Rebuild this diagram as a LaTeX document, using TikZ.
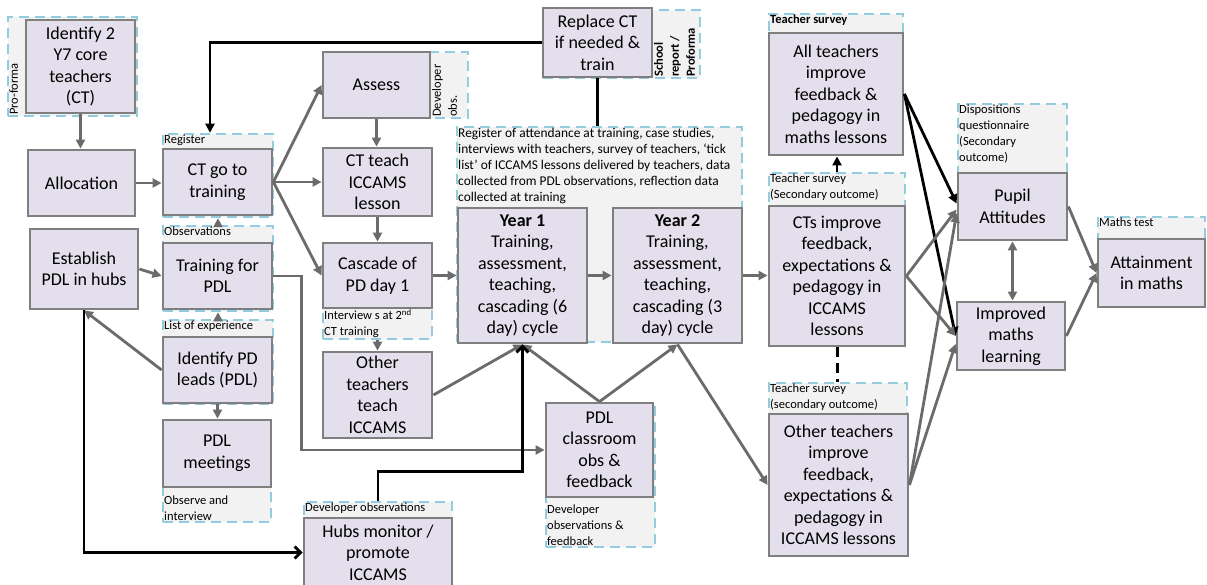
\documentclass[tikz,border=0pt]{standalone}
\usepackage{fontspec}
\setmainfont{Carlito}
\usetikzlibrary{arrows.meta,fit}
\definecolor{boxfill}{HTML}{E4DFEC}
\definecolor{boxline}{HTML}{7F7F7F}
\definecolor{linkgray}{HTML}{6B6B6B}
\definecolor{notefill}{HTML}{F2F2F2}
\definecolor{noteline}{HTML}{93CDDD}
\newcommand{\boxfont}{\fontsize{18}{21.5}\selectfont}
\newcommand{\notefont}{\fontsize{12.5}{16}\selectfont}
\begin{document}
\begin{tikzpicture}[x=1pt,y=-1pt,
        box/.style={draw=boxline,fill=boxfill,line width=2.8pt,inner sep=0pt,align=center,font=\boxfont},
        note/.style={draw=noteline,fill=notefill,line width=2.5pt,dash pattern=on 10pt off 6pt,inner sep=0pt},
        notetxt/.style={font=\notefont,align=left,inner sep=1pt},
        link/.style={draw=linkgray,line width=2.8pt,-{Triangle[length=9pt,width=9pt]}},
        blink/.style={draw=black,line width=2.8pt,-{Triangle[length=9pt,width=9pt]}},
        bopen/.style={draw=black,line width=2.8pt,-{Straight Barb[length=6pt,width=12pt]}}]
        \useasboundingbox (0,0) rectangle (1207,585);
        \node[note,fit={(8,17) (137,116)}] (n-idct) {};
        \node[note,fit={(163,134) (273,217)}] (n-cttrain) {};
        \node[note,fit={(163,226) (273,311)}] (n-trpdl) {};
        \node[note,fit={(163,320) (273,404)}] (n-idpdl) {};
        \node[note,fit={(163,420) (271,522)}] (n-pdlmeet) {};
        \node[note,fit={(304,502) (452,587)}] (n-hubs) {};
        \node[note,fit={(323,52) (468,118)}] (n-assess) {};
        \node[note,fit={(323,243) (432,339)}] (n-cascade) {};
        \node[note,fit={(543,10) (700,78)}] (n-replace) {};
        \node[note,fit={(457,127) (742,342)}] (n-big) {};
        \node[note,fit={(546,405) (655,547)}] (n-pdlobs) {};
        \node[note,fit={(769,14) (903,155)}] (n-allimp) {};
        \node[note,fit={(769,173) (905,346)}] (n-ctimp) {};
        \node[note,fit={(769,383) (907,556)}] (n-othimp) {};
        \node[note,fit={(958,104) (1067,240)}] (n-pupil) {};
        \node[note,fit={(1098,217) (1205,307)}] (n-attain) {};
        \node[box,minimum width=109,minimum height=93] (idct) at (80.5,66.5) {Identify 2\\Y7 core\\teachers\\(CT)};
        \node[box,minimum width=107,minimum height=66] (alloc) at (81.5,183) {Allocation};
        \node[box,minimum width=109,minimum height=66] (cttrain) at (217.5,182) {CT go to\\training};
        \node[box,minimum width=108,minimum height=80] (estpdl) at (84,269) {Establish\\PDL in hubs};
        \node[box,minimum width=109,minimum height=66] (trpdl) at (217.5,276) {Training for\\PDL};
        \node[box,minimum width=109,minimum height=66] (idpdl) at (217.5,370) {Identify PD\\leads (PDL)};
        \node[box,minimum width=108,minimum height=67] (pdlmeet) at (217,453.5) {PDL\\meetings};
        \node[box,minimum width=148,minimum height=69] (hubs) at (378,552.5) {Hubs monitor /\\promote\\ICCAMS};
        \node[box,minimum width=107,minimum height=66] (assess) at (376.5,85) {Assess};
        \node[box,minimum width=109,minimum height=68] (ctteach) at (377.5,182) {CT teach\\ICCAMS\\lesson};
        \node[box,minimum width=109,minimum height=65] (cascade) at (377.5,275.5) {Cascade of\\PD day 1};
        \node[box,minimum width=109,minimum height=86] (otherteach) at (377.5,395) {Other\\teachers\\teach\\ICCAMS};
        \node[box,minimum width=109,minimum height=69] (replace) at (597.5,42.5) {Replace CT\\if needed \&\\train};
        \node[box,minimum width=129,minimum height=135] (yearone) at (522.5,275.5) {\textbf{Year 1}\\Training,\\assessment,\\teaching,\\cascading (6\\day) cycle};
        \node[box,minimum width=129,minimum height=135] (yeartwo) at (677.5,275.5) {\textbf{Year 2}\\Training,\\assessment,\\teaching,\\cascading (3\\day) cycle};
        \node[box,minimum width=107,minimum height=94] (pdlobs) at (599.5,450) {PDL\\classroom\\obs \&\\feedback};
        \node[box,minimum width=134,minimum height=122] (allimp) at (836,94) {All teachers\\improve\\feedback \&\\pedagogy in\\maths lessons};
        \node[box,minimum width=136,minimum height=140] (ctimp) at (837,276) {CTs improve\\feedback,\\expectations \&\\pedagogy in\\ICCAMS\\lessons};
        \node[box,minimum width=139,minimum height=142] (othimp) at (838.5,485) {Other teachers\\improve\\feedback,\\expectations \&\\pedagogy in\\ICCAMS lessons};
        \node[box,minimum width=109,minimum height=67] (pupil) at (1012.5,206.5) {Pupil\\Attitudes};
        \node[box,minimum width=108,minimum height=68] (learning) at (1011,336) {Improved\\maths\\learning};
        \node[box,minimum width=107,minimum height=68] (attain) at (1151.5,273) {Attainment\\in maths};
        \node[notetxt,rotate=90,anchor=north west] (t-idct) at (8,116) {Pro-forma};
        \node[notetxt,anchor=north west] (t-cttrain) at (163,134) {Register};
        \node[notetxt,anchor=north west] (t-trpdl) at (163,226) {Observations};
        \node[notetxt,anchor=north west] (t-idpdl) at (163,320) {List of experience};
        \node[notetxt,anchor=south west] (t-pdlmeet) at (163,522) {Observe and\\interview};
        \node[notetxt,anchor=north west] (t-hubs) at (304,502) {Developer observations};
        \node[notetxt,rotate=90,anchor=north west] (t-assess) at (431,118) {Developer\\obs.};
        \node[notetxt,anchor=south west] (t-cascade) at (323,339) {Interview s at 2\textsuperscript{nd}\\CT training};
        \node[notetxt,rotate=90,anchor=north west,font=\notefont\bfseries] (t-replace) at (653,78) {School\\report /\\Proforma};
        \node[notetxt,anchor=north west,font=\fontsize{13.4}{16}\selectfont] (t-big) at (457,127) {Register of attendance at training, case studies,\\interviews with teachers, survey of teachers, `tick\\list' of ICCAMS lessons delivered by teachers, data\\collected from PDL observations, reflection data\\collected at training};
        \node[notetxt,anchor=south west] (t-pdlobs) at (546,547) {Developer\\observations \&\\feedback};
        \node[notetxt,anchor=north west,font=\notefont\bfseries] (t-allimp) at (769,14) {Teacher survey};
        \node[notetxt,anchor=north west] (t-ctimp) at (769,173) {Teacher survey\\(Secondary outcome)};
        \node[notetxt,anchor=north west] (t-othimp) at (769,383) {Teacher survey\\(secondary outcome)};
        \node[notetxt,anchor=north west] (t-pupil) at (958,104) {Dispositions\\questionnaire\\(Secondary\\outcome)};
        \node[notetxt,anchor=north west] (t-attain) at (1098,217) {Maths test};
        \draw[link] (idct.south) -- (idct.south |- alloc.north);
        \draw[link] (alloc.east) -- (alloc.east -| cttrain.west);
        \draw[link] (cttrain.east) -- (assess.west);
        \draw[link] (cttrain.east) -- (ctteach.west);
        \draw[link] (cttrain.east) -- (cascade.west);
        \draw[link] (assess.south) -- (assess.south |- ctteach.north);
        \draw[link] (ctteach.south) -- (ctteach.south |- cascade.north);
        \draw[link] (n-cascade.south) -- (n-cascade.south |- otherteach.north);
        \draw[link] (cascade.east) -- (cascade.east -| yearone.west);
        \draw[link] (yearone.east) -- (yearone.east -| yeartwo.west);
        \draw[link] (yeartwo.east) -- (yeartwo.east -| ctimp.west);
        \draw[link] (yeartwo.south) -- (othimp.west);
        \draw[link] (otherteach.east) -- (yearone.south);
        \draw[link] (pdlobs.north) -- (yearone.south);
        \draw[link] (pdlobs.north) -- (yeartwo.south);
        \draw[link] (trpdl.east) -- ++(28,0) |- (pdlobs.west);
        \draw[link] (estpdl.east) -- (trpdl.west);
        \draw[link] (idpdl.west) -- (estpdl.south);
        \draw[link] (n-idpdl.north) -- (n-idpdl.north |- n-trpdl.south);
        \draw[link] (n-trpdl.north) -- (n-trpdl.north |- n-cttrain.south);
        \draw[link] (idpdl.south) -- (idpdl.south |- pdlmeet.north);
        \draw[bopen] (estpdl.south) |- (hubs.west);
        \draw[bopen] (n-hubs.north) -- ++(0,-29) -| (yearone.south);
        \draw[blink] (replace.west) -| ([xshift=-8pt]n-cttrain.north);
        \draw[line width=2.8pt] (replace.south) -- (replace.south |- n-big.north);
        \draw[blink] (n-ctimp.north) -- (n-ctimp.north |- allimp.south);
        \draw[line width=3pt,dash pattern=on 10pt off 6pt] (ctimp.south) -- (ctimp.south |- n-othimp.north);
        \draw[blink] (allimp.east) -- ([yshift=3pt]pupil.west);
        \draw[blink] (allimp.east) -- (learning.west);
        \draw[link] (ctimp.east) -- ([yshift=-3pt]pupil.west);
        \draw[link] (ctimp.east) -- (learning.west);
        \draw[link] (othimp.east) -- ([yshift=-7pt]pupil.west);
        \draw[link] (othimp.east) -- ([yshift=-8pt]learning.west);
        \draw[link,{Triangle[length=9pt,width=9pt]}-{Triangle[length=9pt,width=9pt]}] (pupil.south) -- (pupil.south |- learning.north);
        \draw[link] (pupil.east) -- (attain.west);
        \draw[link] (learning.east) -- (attain.west);
\end{tikzpicture}
\end{document}
